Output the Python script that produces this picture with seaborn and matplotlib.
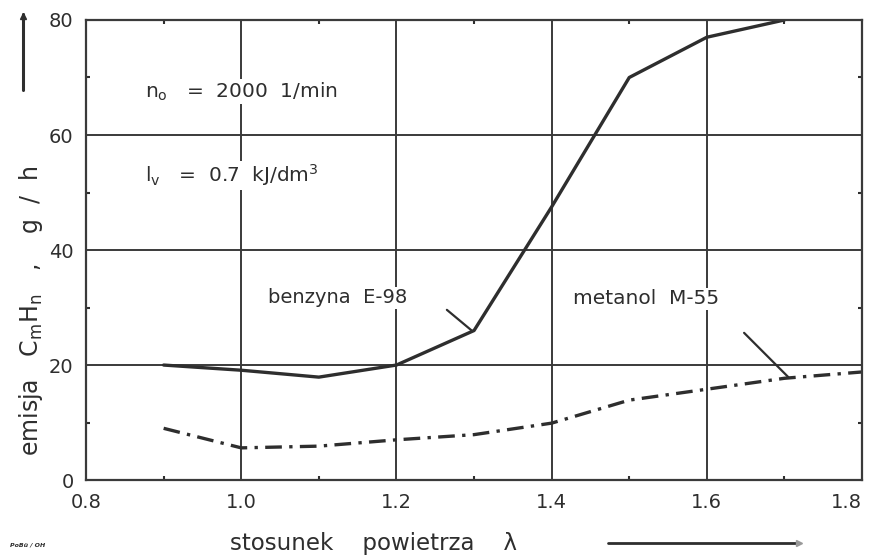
import pandas as pd
import matplotlib.pyplot as plt
import seaborn as sns

# dane
lam = [0.9, 1.0, 1.1, 1.2, 1.3, 1.4, 1.5, 1.6, 1.7, 1.8]
benzyna = [20, 19.1, 17.9, 20, 26, 47.5, 70, 77, 80, None]
metanol = [9.0, 5.6, 5.9, 7.0, 7.9, 9.9, 13.9, 15.8, 17.7, 18.8]
xticks = [0.8, 1.0, 1.2, 1.4, 1.6, 1.8]
yticks = [0, 20, 40, 60, 80]

df = pd.DataFrame({"lam": lam, "benzyna E-98": benzyna, "metanol M-55": metanol})

sns.set_theme(style="white")
plt.rcParams["font.family"] = ["DejaVu Sans"]

fig = plt.figure(figsize=(8.69, 5.55), dpi=100)
ax = fig.add_axes([0.099, 0.135, 0.893, 0.829])

ink = "#2e2e2e"
sns.lineplot(data=df, x="lam", y="benzyna E-98", ax=ax, color=ink, linewidth=2.4)
sns.lineplot(data=df, x="lam", y="metanol M-55", ax=ax, color=ink, linewidth=2.4)
ax.lines[1].set_dashes([5, 2.2, 1, 2.2])

ax.set_xlim(0.8, 1.8)
ax.set_ylim(0, 80)
ax.set_xticks(xticks)
labs = ax.set_xticklabels([f"{v:.1f}" for v in xticks])
labs[-1].set_horizontalalignment("right")
labs[-1].set_x(1.803)
ax.set_yticks(yticks)
ax.set_xticks([0.9, 1.1, 1.3, 1.5, 1.7], minor=True)
ax.set_yticks([10, 30, 50, 70], minor=True)
ax.grid(True, which="major", color="#3a3a3a", linewidth=1.4)
ax.tick_params(which="major", length=0, labelsize=14, colors=ink, pad=9)
ax.tick_params(which="minor", direction="in", length=3, width=1.5, color=ink,
               bottom=True, top=True, left=True, right=True)
for s in ax.spines.values():
    s.set_color("#3a3a3a")
    s.set_linewidth(1.6)
ax.set_xlabel("")
ax.set_ylabel("")

# opisy w polu wykresu
box = dict(facecolor="white", edgecolor="none", pad=1)
ax.text(0.876, 67.5, r"n$_\mathregular{o}$   =  2000  1/min", fontsize=14.5, color=ink,
        bbox=box, va="center")
ax.text(0.876, 53, r"l$_\mathregular{v}$   =  0.7  kJ/dm$^\mathregular{3}$", fontsize=14.5,
        color=ink, bbox=box, va="center")
ax.text(1.035, 31.7, "benzyna  E-98", fontsize=14, color=ink, va="center", bbox=box)
ax.annotate("", xy=(1.297, 26), xytext=(1.265, 29.6),
            arrowprops=dict(arrowstyle="-", color=ink, lw=1.6, shrinkA=0, shrinkB=0))
ax.text(1.428, 31.5, "metanol  M-55", fontsize=14.5, color=ink, va="center", bbox=box)
ax.annotate("", xy=(1.705, 17.9), xytext=(1.648, 25.6),
            arrowprops=dict(arrowstyle="-", color=ink, lw=1.6, shrinkA=0, shrinkB=0))

# opisy osi
fig.text(0.036, 0.44, r"emisja   C$_\mathregular{m}$H$_\mathregular{n}$   ,    g  /  h",
         rotation=90, fontsize=17, color=ink, ha="center", va="center")
fig.add_artist(plt.Line2D([0.027, 0.027], [0.838, 0.975], color=ink, lw=2.2,
                          transform=fig.transFigure))
fig.add_artist(plt.Line2D([0.027], [0.972], marker="^", markersize=5, color=ink,
                          transform=fig.transFigure))
fig.text(0.43, 0.02, "stosunek    powietrza    λ", fontsize=16.5, color=ink,
         ha="center", va="center")
fig.add_artist(plt.Line2D([0.70, 0.92], [0.022, 0.022], color=ink, lw=2.0,
                          transform=fig.transFigure))
fig.add_artist(plt.Line2D([0.92], [0.022], marker=">", markersize=5, color="#999999",
                          transform=fig.transFigure))
fig.text(0.012, 0.015, "PoBü / OH", fontsize=4.5, color=ink, style="italic",
         weight="bold")

fig.savefig("out.png", dpi=100, facecolor="white")
